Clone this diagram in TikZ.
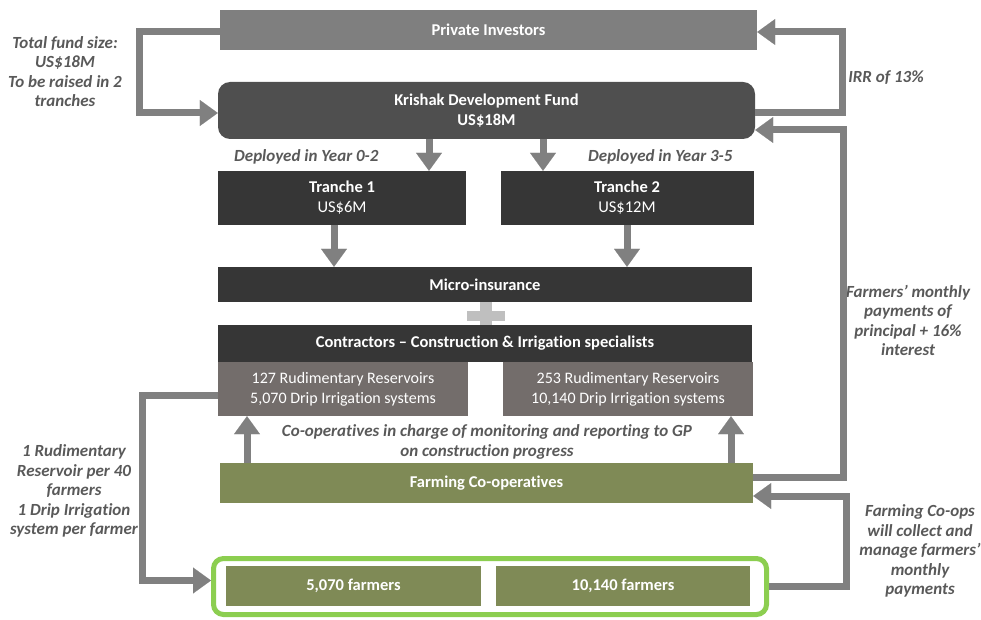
\documentclass[tikz,border=0pt]{standalone}
\usepackage{fontspec}
\setmainfont{Carlito}[Ligatures={TeX,NoCommon}]
\usetikzlibrary{calc,arrows.meta,positioning}
\definecolor{invgray}{HTML}{7F7F7F}
\definecolor{fundgray}{HTML}{4F4F4F}
\definecolor{boxdark}{HTML}{363636}
\definecolor{warmgray}{HTML}{736D6B}
\definecolor{olive}{HTML}{7F8A56}
\definecolor{leaf}{HTML}{8CCE50}
\definecolor{linegray}{HTML}{808080}
\definecolor{plusgray}{HTML}{BFBFBF}
\definecolor{notegray}{HTML}{595959}
\tikzset{
    every node/.style={font=\fontsize{16}{20}\selectfont},
    main node/.style={shape=rectangle, inner sep=0pt,
    	align=center, text=white, fill=boxdark,
    	font=\fontsize{16.5}{20}\selectfont\bfseries},
    plain node/.style={main node, fill=warmgray,
    	font=\fontsize{16}{20}\selectfont},
    note/.style={align=center, text=notegray, inner sep=0pt,
    	font=\fontsize{17}{19.5}\selectfont\bfseries\itshape},
    flow/.style={draw=linegray, line width=7pt,
    	-{Triangle[length=18pt,width=26pt,line width=0.1pt]}}
}

\begin{document}
\begin{tikzpicture}[x=1pt,y=-1pt]
    \useasboundingbox (0,0) rectangle (981,620);

    % the plus between the two dark bars
    \fill[plusgray] (467,310.5) rectangle (505,320.5);
    \fill[plusgray] (480,297) rectangle (492,334);

    \node[main node, fill=invgray, minimum width=537pt, minimum height=40pt] (inv) at (488.5,30) {Private Investors};
    \node[main node, fill=fundgray, rounded corners=12pt, minimum width=537pt, minimum height=57pt] (fund) at (486.5,110.5) {Krishak Development Fund\\US\$18M};
    \node[main node, minimum width=248pt, minimum height=54pt] (t1) at (342,198) {Tranche 1\\\mdseries US\$6M};
    \node[main node, minimum width=253pt, minimum height=54pt] (t2) at (627,198) {Tranche 2\\\mdseries US\$12M};
    \node[main node, minimum width=534pt, minimum height=35pt] (ins) at (485,284.5) {Micro-insurance};
    \node[main node, minimum width=534pt, minimum height=37pt] (con) at (485,343.5) {Contractors – Construction \& Irrigation specialists};
    \node[plain node, minimum width=250pt, minimum height=54pt] (res1) at (343,389) {127 Rudimentary Reservoirs\\5,070 Drip Irrigation systems};
    \node[plain node, minimum width=250pt, minimum height=54pt] (res2) at (628,389) {253 Rudimentary Reservoirs\\10,140 Drip Irrigation systems};
    \node[main node, fill=olive, minimum width=533pt, minimum height=40pt] (coop) at (486.5,483) {Farming Co-operatives};

    \node[draw=leaf, line width=5pt, fill=white, rounded corners=10pt, minimum width=553pt, minimum height=56pt] (grp) at (490,586.5) {};
    \node[main node, fill=olive, minimum width=255pt, minimum height=40pt] (f1) at (353.5,586) {5,070 farmers};
    \node[main node, fill=olive, minimum width=254pt, minimum height=40pt] (f2) at (623,586) {10,140 farmers};

    % labels
    \node[note] (n1) at (65,71.5) {Total fund size:\\US\$18M\\To be raised in 2\\tranches};
    \node[note] (n2) at (886,78) {IRR of 13\%};
    \node[note, anchor=west] (n3) at (234,157) {Deployed in Year 0-2};
    \node[note, anchor=west] (n4) at (588,157) {Deployed in Year 3-5};
    \node[note] (n5) at (908,320.5) {Farmers’ monthly\\payments of\\principal + 16\%\\interest};
    \node[note] (n6) at (487,442) {Co-operatives in charge of monitoring and reporting to GP\\on construction progress};
    \node[note] (n7) at (74,491) {1 Rudimentary\\Reservoir per 40\\farmers\\1 Drip Irrigation\\system per farmer};
    \node[note] (n8) at (920,551) {Farming Co-ops\\will collect and\\manage farmers’\\monthly\\payments};

    % connectors
    \coordinate (d1) at ([xshift=-57.5pt]fund.south);
    \coordinate (d2) at ([xshift=56.5pt]fund.south);
    \coordinate (d3) at ([xshift=-8pt]t1.south);
    \coordinate (u1) at ([xshift=-239.5pt]coop.north);
    \coordinate (u2) at ([xshift=244.5pt]coop.north);

    \draw[flow] ([yshift=-2pt]inv.west) -- ++(-80,0) |- ([yshift=-2.5pt]fund.west);
    \draw[flow] ([yshift=-2.5pt]fund.east) -- ++(87,0) |- ([yshift=-2pt]inv.east);
    \draw[flow] (d1) -- (d1 |- t1.north);
    \draw[flow] (d2) -- (d2 |- t2.north);
    \draw[flow] (d3) -- (d3 |- ins.north);
    \draw[flow] (t2.south) -- (ins.north -| t2.south);
    \draw[flow] (u1) -- (u1 |- res1.south);
    \draw[flow] (u2) -- (u2 |- res2.south);
    \draw[flow] ([yshift=6pt]coop.east) -- ++(90,0) |- ([yshift=-19.5pt]fund.east);
    \draw[flow] (grp.east) -- ++(77,0) |- ([yshift=-13pt]coop.east);
    \draw[flow] ([yshift=-6pt]res1.west) -- ++(-75,0) |- ([yshift=6pt]grp.west);

\end{tikzpicture}
\end{document}
